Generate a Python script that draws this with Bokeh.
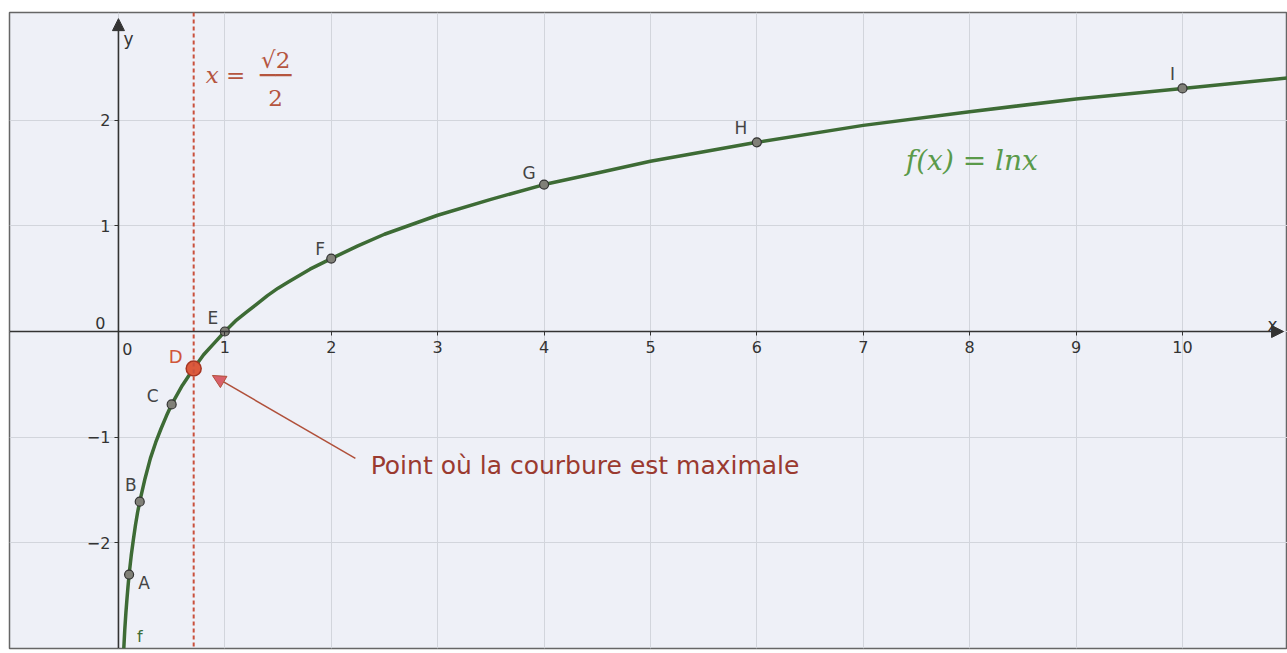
from bokeh.plotting import figure
from bokeh.models import (LinearAxis, FixedTicker, Grid, Span, Label, Arrow,
                          NormalHead)
from bokeh.embed import file_html
from bokeh.resources import INLINE

# ---- data: f(x) = ln x ----
curve_x = [0.05, 0.06, 0.07, 0.08, 0.09, 0.1, 0.12, 0.14, 0.16, 0.18, 0.2,
           0.25, 0.3, 0.35, 0.4, 0.45, 0.5, 0.6, 0.7, 0.8, 0.9, 1.0, 1.1,
           1.2, 1.3, 1.4, 1.5, 1.6, 1.7, 1.8, 1.9, 2.0, 2.25, 2.5, 2.75, 3.0,
           3.5, 4.0, 4.5, 5.0, 6.0, 7.0, 8.0, 9.0, 10.0, 11.0]
curve_y = [-3.00, -2.81, -2.66, -2.53, -2.41, -2.30, -2.12, -1.97, -1.83,
           -1.71, -1.61, -1.39, -1.20, -1.05, -0.92, -0.80, -0.69, -0.51,
           -0.36, -0.22, -0.11, 0.00, 0.10, 0.18, 0.26, 0.34, 0.41, 0.47,
           0.53, 0.59, 0.64, 0.69, 0.81, 0.92, 1.01, 1.10, 1.25, 1.39, 1.50,
           1.61, 1.79, 1.95, 2.08, 2.20, 2.30, 2.40]

point_names = ["A", "B", "C", "E", "F", "G", "H", "I"]
point_x = [0.1, 0.2, 0.5, 1.0, 2.0, 4.0, 6.0, 10.0]
point_y = [-2.30, -1.61, -0.69, 0.00, 0.69, 1.39, 1.79, 2.30]

d_name = "D"
d_x = 0.707
d_y = -0.35

x_ticks = [0, 1, 2, 3, 4, 5, 6, 7, 8, 9, 10]
y_ticks = [-2, -1, 0, 1, 2]

# ---- layout / styles ----
X_RANGE = (-1.024, 10.987)
Y_RANGE = (-2.999, 3.018)
label_dx = [15, -9, -19, -12, -11, -15, -16, -10]
label_dy = [-8, 17, 8, 14, 10, 12, 14, 14]

SANS = "DejaVu Sans"
SERIF = "DejaVu Serif"

p = figure(width=1287, height=653, x_range=X_RANGE, y_range=Y_RANGE,
           x_axis_type=None, y_axis_type=None,
           output_backend="svg", toolbar_location=None,
           min_border_left=9, min_border_right=0, min_border_top=12,
           min_border_bottom=5,
           background_fill_color="#eef0f7", border_fill_color="white",
           outline_line_color="#666666", outline_line_width=1.5)

grid_color = "#d2d5dc"
p.add_layout(Grid(dimension=0, ticker=FixedTicker(ticks=x_ticks),
                  grid_line_color=grid_color, grid_line_width=1))
p.add_layout(Grid(dimension=1, ticker=FixedTicker(ticks=y_ticks),
                  grid_line_color=grid_color, grid_line_width=1))

axis_style = dict(axis_line_color=None, major_tick_in=0, major_tick_out=4,
                  major_tick_line_color="#333333", major_tick_line_width=1,
                  minor_tick_line_color=None,
                  major_label_text_font=SANS,
                  major_label_text_font_size="16px",
                  major_label_text_color="#333333",
                  major_label_overrides={0: ""})
xaxis = LinearAxis(fixed_location=0, ticker=FixedTicker(ticks=x_ticks),
                   major_label_standoff=5, **axis_style)
yaxis = LinearAxis(fixed_location=0, ticker=FixedTicker(ticks=y_ticks),
                   major_label_standoff=4, **axis_style)
p.add_layout(xaxis, "below")
p.add_layout(yaxis, "left")

# vertical dashed line x = sqrt(2)/2
p.add_layout(Span(location=d_x, dimension="height", line_color="#c9503c",
                  line_dash="4 3", line_width=2))

# axis lines with arrow heads
ax_col = "#333333"
p.add_layout(Arrow(x_start=X_RANGE[0], y_start=0, x_end=10.95, y_end=0,
                   line_color=ax_col, line_width=1.6,
                   end=NormalHead(size=12, fill_color=ax_col,
                                  line_color=ax_col)))
p.add_layout(Arrow(x_start=0, y_start=Y_RANGE[0], x_end=0, y_end=2.96,
                   line_color=ax_col, line_width=1.6,
                   end=NormalHead(size=12, fill_color=ax_col,
                                  line_color=ax_col)))

lbl = dict(text_font=SANS, text_align="center", text_baseline="middle")
p.add_layout(Label(x=0, y=0, text="0", x_offset=9, y_offset=-17,
                   text_font_size="16px", text_color="#333333", **lbl))
p.add_layout(Label(x=0, y=0, text="0", x_offset=-18, y_offset=9,
                   text_font_size="16px", text_color="#333333", **lbl))
p.add_layout(Label(x=0, y=2.96, text="y", x_offset=10, y_offset=-20,
                   text_font_size="17px", text_color="#333333", **lbl))
p.add_layout(Label(x=10.95, y=0, text="x", x_offset=-11, y_offset=7,
                   text_font_size="17px", text_color="#333333", **lbl))

# curve
p.line(curve_x, curve_y, line_color="#3d6b35", line_width=3.5)

# points
p.scatter(point_x, point_y, size=9, fill_color="#808078",
          line_color="#333333", line_width=1.2)
p.scatter([d_x], [d_y], size=15, fill_color="#dc5a3c",
          line_color="#a53522", line_width=1.5)

for name, x, y, dx, dy in zip(point_names, point_x, point_y, label_dx,
                              label_dy):
    p.add_layout(Label(x=x, y=y, text=name, x_offset=dx, y_offset=dy,
                       text_font_size="17px", text_color="#444444", **lbl))
p.add_layout(Label(x=d_x, y=d_y, text=d_name, x_offset=-18, y_offset=12,
                   text_font_size="18px", text_color="#d0563a", **lbl))
p.add_layout(Label(x=0.2, y=-2.89, text="f", text_font_size="16px",
                   text_color="#3d6b35", **lbl))

# annotation arrow + text
p.add_layout(Arrow(x_start=2.227, y_start=-1.20, x_end=0.883, y_end=-0.416,
                   line_color="#b0503a", line_width=1.5,
                   end=NormalHead(size=13, fill_color="#d8606a",
                                  line_color="#b0503a")))
p.add_layout(Label(x=2.37, y=-1.27, text="Point où la courbure est maximale",
                   text_font=SANS, text_font_size="25px", text_color="#9a3a30",
                   text_align="left", text_baseline="middle"))

# x = sqrt(2)/2 label
math_col = "#b5553f"
p.add_layout(Label(x=d_x, y=2.45, text="x =", x_offset=12, y_offset=-2,
                   text_font=SERIF, text_font_style="italic",
                   text_font_size="23px", text_color=math_col,
                   text_align="left", text_baseline="middle"))
p.add_layout(Label(x=d_x, y=2.45, text="√2", x_offset=82, y_offset=13,
                   text_font=SERIF, text_font_size="23px", text_color=math_col,
                   text_align="center", text_baseline="middle"))
p.add_layout(Label(x=d_x, y=2.45, text="──", x_offset=82, y_offset=-2,
                   text_font="DejaVu Sans Mono", text_font_size="26px",
                   text_color=math_col,
                   text_align="center", text_baseline="middle"))
p.add_layout(Label(x=d_x, y=2.45, text="2", x_offset=82, y_offset=-25,
                   text_font=SERIF, text_font_size="23px", text_color=math_col,
                   text_align="center", text_baseline="middle"))

# f(x) = ln x label
p.add_layout(Label(x=7.40, y=1.62, text="f(x)  =  lnx",
                   text_font=SERIF, text_font_style="italic",
                   text_font_size="28px", text_color="#5a9a4a",
                   text_align="left", text_baseline="middle"))

open("out.html", "w").write(file_html(p, INLINE))
